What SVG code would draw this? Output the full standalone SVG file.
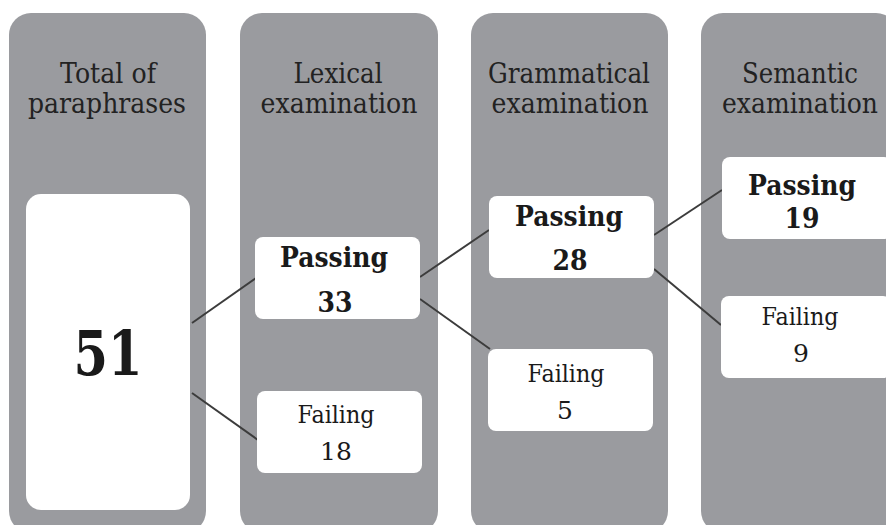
<svg xmlns="http://www.w3.org/2000/svg" width="886" height="525" viewBox="0 0 886 525">
<style>
.col{fill:#9a9b9f}
.box{fill:#ffffff}
.hd{font-family:"DejaVu Serif","Liberation Serif",serif;font-size:27px;fill:#222222;text-anchor:middle}
.b{font-family:"DejaVu Serif","Liberation Serif",serif;font-size:27px;font-weight:bold;fill:#1a1a1a;text-anchor:middle}
.r{font-family:"DejaVu Serif","Liberation Serif",serif;font-size:25px;fill:#1a1a1a;text-anchor:middle}
.big{font-family:"DejaVu Serif","Liberation Serif",serif;font-size:62px;font-weight:bold;fill:#1a1a1a;text-anchor:middle}
.ln{stroke:#3c3c3c;stroke-width:2;fill:none}
</style>
<rect width="886" height="525" fill="#ffffff"/>
<g id="columns">
<g id="col-total"><rect class="col" x="9" y="13" width="197" height="520" rx="22"/>
<text class="hd" x="108" y="83" textLength="96" lengthAdjust="spacingAndGlyphs">Total of</text>
<text class="hd" x="107" y="113" textLength="158" lengthAdjust="spacingAndGlyphs">paraphrases</text></g>
<g id="col-lexical"><rect class="col" x="240" y="13" width="198" height="520" rx="22"/>
<text class="hd" x="338" y="83" textLength="89" lengthAdjust="spacingAndGlyphs">Lexical</text>
<text class="hd" x="339" y="113" textLength="157" lengthAdjust="spacingAndGlyphs">examination</text></g>
<g id="col-grammatical"><rect class="col" x="471" y="13" width="197" height="520" rx="22"/>
<text class="hd" x="569" y="83" textLength="162" lengthAdjust="spacingAndGlyphs">Grammatical</text>
<text class="hd" x="570" y="113" textLength="157" lengthAdjust="spacingAndGlyphs">examination</text></g>
<g id="col-semantic"><rect class="col" x="701" y="13" width="197" height="520" rx="22"/>
<text class="hd" x="800" y="83" textLength="116" lengthAdjust="spacingAndGlyphs">Semantic</text>
<text class="hd" x="800" y="113" textLength="156" lengthAdjust="spacingAndGlyphs">examination</text></g>
</g>
<g id="connectors">
<line class="ln" x1="192" y1="323" x2="256" y2="278"/>
<line class="ln" x1="192" y1="393" x2="258" y2="440"/>
<line class="ln" x1="420" y1="277" x2="489" y2="230"/>
<line class="ln" x1="420" y1="299" x2="490" y2="349"/>
<line class="ln" x1="654" y1="235" x2="722" y2="190"/>
<line class="ln" x1="654" y1="269" x2="721" y2="325"/>
</g>
<g id="n-total"><rect class="box" x="26" y="194" width="164" height="316" rx="15"/>
<text class="big" x="108" y="375" textLength="69" lengthAdjust="spacingAndGlyphs">51</text></g>
<g id="n-lex-pass"><rect class="box" x="255" y="237" width="165" height="82" rx="8"/>
<text class="b" x="334" y="267" textLength="108" lengthAdjust="spacingAndGlyphs">Passing</text>
<text class="b" x="335" y="312" textLength="35" lengthAdjust="spacingAndGlyphs">33</text></g>
<g id="n-lex-fail"><rect class="box" x="257" y="391" width="165" height="82" rx="8"/>
<text class="r" x="336" y="423" textLength="77" lengthAdjust="spacingAndGlyphs">Failing</text>
<text class="r" x="336" y="460">18</text></g>
<g id="n-gram-pass"><rect class="box" x="489" y="196" width="165" height="82" rx="8"/>
<text class="b" x="569" y="226" textLength="108" lengthAdjust="spacingAndGlyphs">Passing</text>
<text class="b" x="570" y="270" textLength="35" lengthAdjust="spacingAndGlyphs">28</text></g>
<g id="n-gram-fail"><rect class="box" x="488" y="349" width="165" height="82" rx="8"/>
<text class="r" x="566" y="382" textLength="77" lengthAdjust="spacingAndGlyphs">Failing</text>
<text class="r" x="565" y="419">5</text></g>
<g id="n-sem-pass"><rect class="box" x="722" y="157" width="170" height="82" rx="8"/>
<text class="b" x="802" y="195" textLength="108" lengthAdjust="spacingAndGlyphs">Passing</text>
<text class="b" x="802" y="228" textLength="35" lengthAdjust="spacingAndGlyphs">19</text></g>
<g id="n-sem-fail"><rect class="box" x="721" y="296" width="170" height="82" rx="8"/>
<text class="r" x="800" y="325" textLength="77" lengthAdjust="spacingAndGlyphs">Failing</text>
<text class="r" x="801" y="362">9</text></g>
</svg>
